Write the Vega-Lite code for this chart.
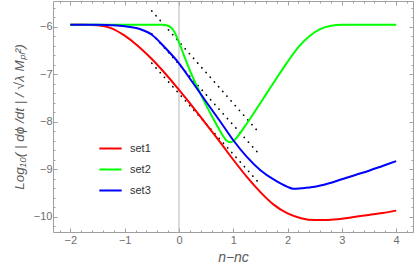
{
  "$schema": "https://vega.github.io/schema/vega-lite/v6.json",
  "width": 360,
  "height": 231,
  "autosize": "none",
  "padding": {"left": 53, "top": 1, "right": 2, "bottom": 45},
  "config": {
    "view": {"stroke": "#a0a0a0", "strokeWidth": 1},
    "axis": {
      "domain": false,
      "grid": false,
      "tickColor": "#a0a0a0",
      "labelColor": "#6e6e6e",
      "labelFont": "Liberation Sans",
      "labelFontSize": 11,
      "titleColor": "#5a5a5a",
      "titleFont": "Liberation Sans",
      "titleFontWeight": "normal",
      "titleFontStyle": "italic",
      "labelOverlap": false,
      "labelFlush": false
    },
    "legend": {"labelFont": "Liberation Sans", "labelFontSize": 11, "labelColor": "#333333"}
  },
  "datasets": {
    "curves": [
      {"n": -2, "v": -5.96, "set": "set1"}, {"n": -1.75, "v": -5.96, "set": "set1"}, {"n": -1.5, "v": -5.97, "set": "set1"},
      {"n": -1.25, "v": -6.03, "set": "set1"}, {"n": -1, "v": -6.19, "set": "set1"}, {"n": -0.75, "v": -6.41, "set": "set1"},
      {"n": -0.5, "v": -6.68, "set": "set1"}, {"n": -0.25, "v": -6.99, "set": "set1"}, {"n": 0, "v": -7.33, "set": "set1"},
      {"n": 0.25, "v": -7.68, "set": "set1"}, {"n": 0.5, "v": -8.05, "set": "set1"}, {"n": 0.75, "v": -8.42, "set": "set1"},
      {"n": 1, "v": -8.8, "set": "set1"}, {"n": 1.25, "v": -9.16, "set": "set1"}, {"n": 1.5, "v": -9.48, "set": "set1"},
      {"n": 1.75, "v": -9.75, "set": "set1"}, {"n": 2, "v": -9.93, "set": "set1"}, {"n": 2.25, "v": -10.03, "set": "set1"},
      {"n": 2.5, "v": -10.07, "set": "set1"}, {"n": 2.75, "v": -10.065, "set": "set1"}, {"n": 3, "v": -10.04, "set": "set1"},
      {"n": 3.25, "v": -10.0, "set": "set1"}, {"n": 3.5, "v": -9.96, "set": "set1"}, {"n": 3.75, "v": -9.92, "set": "set1"},
      {"n": 4, "v": -9.87, "set": "set1"},
      {"n": -2, "v": -5.96, "set": "set2"}, {"n": -1, "v": -5.96, "set": "set2"}, {"n": -0.5, "v": -5.96, "set": "set2"},
      {"n": -0.3, "v": -5.96, "set": "set2"}, {"n": -0.2, "v": -5.98, "set": "set2"}, {"n": -0.1, "v": -6.08, "set": "set2"},
      {"n": 0, "v": -6.33, "set": "set2"}, {"n": 0.1, "v": -6.63, "set": "set2"}, {"n": 0.2, "v": -6.92, "set": "set2"},
      {"n": 0.3, "v": -7.18, "set": "set2"}, {"n": 0.4, "v": -7.42, "set": "set2"}, {"n": 0.5, "v": -7.65, "set": "set2"},
      {"n": 0.6, "v": -7.87, "set": "set2"}, {"n": 0.7, "v": -8.08, "set": "set2"}, {"n": 0.8, "v": -8.28, "set": "set2"},
      {"n": 0.88, "v": -8.4, "set": "set2"}, {"n": 0.95, "v": -8.43, "set": "set2"}, {"n": 1.02, "v": -8.39, "set": "set2"},
      {"n": 1.1, "v": -8.28, "set": "set2"}, {"n": 1.2, "v": -8.12, "set": "set2"}, {"n": 1.4, "v": -7.78, "set": "set2"},
      {"n": 1.6, "v": -7.43, "set": "set2"}, {"n": 1.8, "v": -7.08, "set": "set2"}, {"n": 2.0, "v": -6.74, "set": "set2"},
      {"n": 2.2, "v": -6.43, "set": "set2"}, {"n": 2.4, "v": -6.2, "set": "set2"}, {"n": 2.6, "v": -6.05, "set": "set2"},
      {"n": 2.8, "v": -5.98, "set": "set2"}, {"n": 3.0, "v": -5.96, "set": "set2"}, {"n": 3.5, "v": -5.96, "set": "set2"},
      {"n": 4, "v": -5.96, "set": "set2"},
      {"n": -2, "v": -5.96, "set": "set3"}, {"n": -1.5, "v": -5.96, "set": "set3"}, {"n": -1.25, "v": -5.97, "set": "set3"},
      {"n": -1, "v": -5.99, "set": "set3"}, {"n": -0.75, "v": -6.04, "set": "set3"}, {"n": -0.5, "v": -6.17, "set": "set3"},
      {"n": -0.25, "v": -6.45, "set": "set3"}, {"n": 0, "v": -6.77, "set": "set3"}, {"n": 0.25, "v": -7.17, "set": "set3"},
      {"n": 0.5, "v": -7.58, "set": "set3"}, {"n": 0.75, "v": -7.98, "set": "set3"}, {"n": 1, "v": -8.39, "set": "set3"},
      {"n": 1.25, "v": -8.74, "set": "set3"}, {"n": 1.5, "v": -9.02, "set": "set3"}, {"n": 1.75, "v": -9.22, "set": "set3"},
      {"n": 2, "v": -9.37, "set": "set3"}, {"n": 2.1, "v": -9.41, "set": "set3"}, {"n": 2.25, "v": -9.4, "set": "set3"},
      {"n": 2.5, "v": -9.37, "set": "set3"}, {"n": 2.75, "v": -9.3, "set": "set3"}, {"n": 3, "v": -9.21, "set": "set3"},
      {"n": 3.25, "v": -9.12, "set": "set3"}, {"n": 3.5, "v": -9.03, "set": "set3"}, {"n": 3.75, "v": -8.93, "set": "set3"},
      {"n": 4, "v": -8.83, "set": "set3"}
    ],
    "dots": [
      {"n": -0.5, "v": -5.67, "line": "A"}, {"n": 1.46, "v": -8.21, "line": "A"},
      {"n": -0.5, "v": -6.15, "line": "B"}, {"n": 1.46, "v": -8.66, "line": "B"},
      {"n": -0.5, "v": -6.77, "line": "C"}, {"n": 1.46, "v": -9.27, "line": "C"}
    ],
    "zero": [{"n": 0}]
  },
  "resolve": {"axis": {"x": "independent", "y": "independent"}},
  "layer": [
    {
      "data": {"name": "zero"},
      "mark": {"type": "rule", "color": "#b4b4b4", "strokeWidth": 1},
      "encoding": {"x": {"field": "n", "type": "quantitative", "scale": {"domain": [-2.32, 4.31], "nice": false, "zero": false}, "axis": null}}
    },
    {
      "data": {"name": "dots"},
      "mark": {"type": "line", "opacity": 0},
      "encoding": {
        "x": {"field": "n", "type": "quantitative", "scale": {"domain": [-2.32, 4.31], "nice": false, "zero": false},
          "axis": {"orient": "top", "title": null, "labels": false, "tickSize": -2,
            "values": [-2.2,-1.8,-1.6,-1.4,-1.2,-0.8,-0.6,-0.4,-0.2,0.2,0.4,0.6,0.8,1.2,1.4,1.6,1.8,2.2,2.4,2.6,2.8,3.2,3.4,3.6,3.8,4.2]}},
        "y": {"field": "v", "type": "quantitative", "scale": {"domain": [-10.32, -5.46], "nice": false, "zero": false},
          "axis": {"orient": "right", "title": null, "labels": false, "tickSize": -2,
            "values": [-5.6,-5.8,-6.2,-6.4,-6.6,-6.8,-7.2,-7.4,-7.6,-7.8,-8.2,-8.4,-8.6,-8.8,-9.2,-9.4,-9.6,-9.8,-10.2]}},
        "detail": {"field": "line"}
      }
    },
    {
      "data": {"name": "dots"},
      "mark": {"type": "line", "opacity": 0},
      "encoding": {
        "x": {"field": "n", "type": "quantitative", "scale": {"domain": [-2.32, 4.31], "nice": false, "zero": false},
          "axis": {"orient": "top", "title": null, "labels": false, "tickSize": -4, "values": [-2,-1,0,1,2,3,4]}},
        "y": {"field": "v", "type": "quantitative", "scale": {"domain": [-10.32, -5.46], "nice": false, "zero": false},
          "axis": {"orient": "right", "title": null, "labels": false, "tickSize": -4, "values": [-6,-7,-8,-9,-10]}},
        "detail": {"field": "line"}
      }
    },
    {
      "data": {"name": "dots"},
      "mark": {"type": "line", "color": "black", "strokeWidth": 1.8, "strokeDash": [0.01, 6.3], "strokeCap": "round"},
      "encoding": {
        "x": {"field": "n", "type": "quantitative", "scale": {"domain": [-2.32, 4.31], "nice": false, "zero": false},
          "axis": {"orient": "bottom", "title": null, "labels": false, "tickSize": -2,
            "values": [-2.2,-1.8,-1.6,-1.4,-1.2,-0.8,-0.6,-0.4,-0.2,0.2,0.4,0.6,0.8,1.2,1.4,1.6,1.8,2.2,2.4,2.6,2.8,3.2,3.4,3.6,3.8,4.2]}},
        "y": {"field": "v", "type": "quantitative", "scale": {"domain": [-10.32, -5.46], "nice": false, "zero": false},
          "axis": {"orient": "left", "title": null, "labels": false, "tickSize": -2,
            "values": [-5.6,-5.8,-6.2,-6.4,-6.6,-6.8,-7.2,-7.4,-7.6,-7.8,-8.2,-8.4,-8.6,-8.8,-9.2,-9.4,-9.6,-9.8,-10.2]}},
        "detail": {"field": "line"}
      }
    },
    {
      "data": {"name": "curves"},
      "mark": {"type": "line", "strokeWidth": 2, "interpolate": "monotone"},
      "encoding": {
        "x": {"field": "n", "type": "quantitative", "scale": {"domain": [-2.32, 4.31], "nice": false, "zero": false},
          "axis": {"orient": "bottom", "title": "n−nc", "titleFontSize": 14, "titlePadding": 5, "format": "d",
            "labelPadding": 6, "tickSize": -4, "labelOverlap": false, "values": [-2,-1,0,1,2,3,4]}},
        "y": {"field": "v", "type": "quantitative", "scale": {"domain": [-10.32, -5.46], "nice": false, "zero": false},
          "axis": {"orient": "left", "title": "Log₁₀( | dϕ /dt | / √λ Mₚₗ²)", "titleFontSize": 13.5, "titlePadding": 7, "format": "d",
            "labelPadding": 5, "tickSize": -4, "labelOverlap": false, "values": [-6,-7,-8,-9,-10]}},
        "color": {"field": "set", "type": "nominal",
          "scale": {"domain": ["set1", "set2", "set3"], "range": ["#ff0000", "#00ff00", "#0000ff"]},
          "legend": {"title": null, "orient": "none", "legendX": 45, "legendY": 135, "symbolType": "stroke",
            "symbolSize": 500, "symbolStrokeWidth": 2, "labelOffset": 7, "rowPadding": 3}}
      }
    }
  ]
}
